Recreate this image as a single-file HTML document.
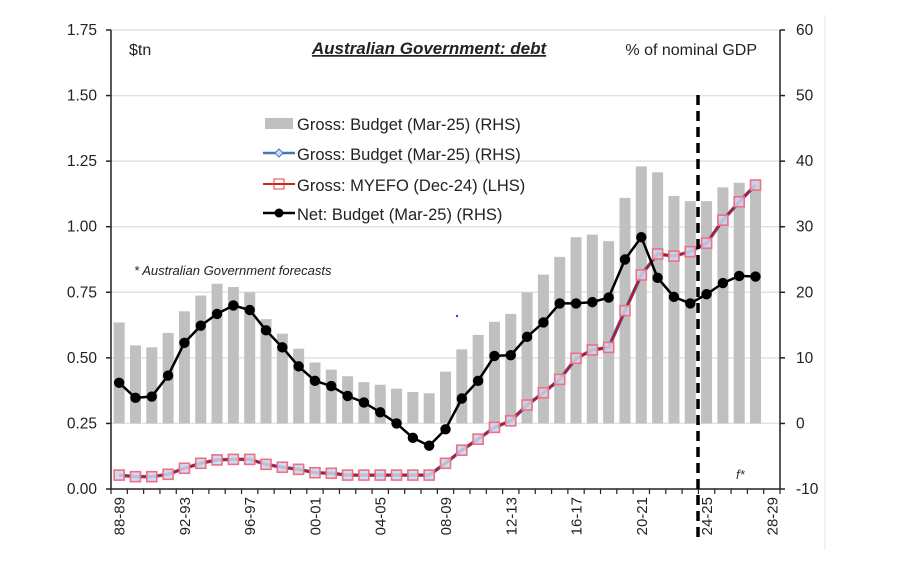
<!DOCTYPE html>
<html><head><meta charset="utf-8"><style>
html,body{margin:0;padding:0;background:#fff;}
svg{display:block;font-family:"Liberation Sans",sans-serif;}
</style></head><body>
<svg id="chart" width="913" height="572" viewBox="0 0 913 572">
<line x1="825" y1="15" x2="825" y2="550" stroke="#e6e6e6"/>
<g id="grid"></g>
<g id="bars"></g>
<g id="axes"></g>
<g id="lines"></g>
<line x1="698" y1="95" x2="698" y2="540" stroke="#000" stroke-width="3.5" stroke-dasharray="10,6"/>
<text x="736" y="479" font-size="13" font-style="italic" fill="#333">f*</text>
<circle cx="457" cy="316" r="1.2" fill="#3344cc"/>
<text x="429" y="54" font-size="17" font-weight="bold" font-style="italic" text-anchor="middle" text-decoration="underline" fill="#222">Australian Government: debt</text>
<text x="129" y="55" font-size="16" fill="#222">$tn</text>
<text x="757" y="55" font-size="16" fill="#222" text-anchor="end">% of nominal GDP</text>
<text x="134" y="275" font-size="13" font-style="italic" fill="#222">* Australian Government forecasts</text>
<g>
 <g><rect x="265" y="118" width="28" height="11" fill="#c0c0c0"/><text x="297" y="130" font-size="16.5" fill="#222">Gross: Budget (Mar-25) (RHS)</text></g>
 <g><line x1="263" y1="153" x2="295" y2="153" stroke="#4a74b8" stroke-width="2.5"/><path d="M279 149 L283 153 L279 157 L275 153Z" fill="#cfe0f5" stroke="#4a74b8"/><text x="297" y="160" font-size="16.5" fill="#222">Gross: Budget (Mar-25) (RHS)</text></g>
 <g><line x1="263" y1="184" x2="295" y2="184" stroke="#cc2222" stroke-width="2"/><rect x="274" y="179" width="10" height="10" fill="none" stroke="#e04040"/><text x="297" y="191" font-size="16.5" fill="#222">Gross: MYEFO (Dec-24) (LHS)</text></g>
 <g><line x1="263" y1="213" x2="295" y2="213" stroke="#000" stroke-width="2.5"/><circle cx="279" cy="213" r="4.5" fill="#000"/><text x="297" y="220" font-size="16.5" fill="#222">Net: Budget (Mar-25) (RHS)</text></g>
</g>
</svg>
<script>
const categories = ["88-89","89-90","90-91","91-92","92-93","93-94","94-95","95-96","96-97","97-98","98-99","99-00","00-01","01-02","02-03","03-04","04-05","05-06","06-07","07-08","08-09","09-10","10-11","11-12","12-13","13-14","14-15","15-16","16-17","17-18","18-19","19-20","20-21","21-22","22-23","23-24","24-25","25-26","26-27","27-28","28-29"];
const grossBudgetPct = [15.4,11.9,11.6,13.8,17.1,19.5,21.3,20.8,20.0,15.9,13.7,11.4,9.3,8.2,7.2,6.3,5.9,5.3,4.8,4.6,7.9,11.3,13.5,15.5,16.7,20.0,22.7,25.4,28.4,28.8,27.8,34.4,39.2,38.3,34.7,33.9,33.9,36.0,36.7,37.1];
const netBudgetPct = [6.2,3.9,4.1,7.3,12.3,14.9,16.7,18.0,17.3,14.2,11.6,8.7,6.5,5.7,4.2,3.2,1.7,0.0,-2.2,-3.4,-0.9,3.8,6.5,10.3,10.4,13.2,15.4,18.3,18.3,18.5,19.2,25.0,28.4,22.2,19.3,18.3,19.7,21.4,22.5,22.4];
const grossMyefoTn = [0.053,0.047,0.047,0.056,0.079,0.098,0.111,0.113,0.113,0.094,0.083,0.075,0.062,0.060,0.053,0.053,0.053,0.053,0.053,0.053,0.098,0.148,0.19,0.235,0.26,0.32,0.367,0.418,0.498,0.53,0.54,0.68,0.816,0.896,0.888,0.905,0.937,1.025,1.095,1.159];
const leftTicks = ["0.00","0.25","0.50","0.75","1.00","1.25","1.50","1.75"];
const rightTicks = ["-10","0","10","20","30","40","50","60"];

const NS="http://www.w3.org/2000/svg";
const X0=111, X1=780, YT=30, YB=489;
const step=(X1-X0)/categories.length;
const xC=i=>X0+step*(i+0.5);
const yL=v=>YB-(v-0)/1.75*(YB-YT);
const yR=v=>YB-(v+10)/70*(YB-YT);
function mk(tag,attrs,parent){const e=document.createElementNS(NS,tag);for(const k in attrs)e.setAttribute(k,attrs[k]);parent.appendChild(e);return e;}
const grid=document.getElementById('grid'),bars=document.getElementById('bars'),axes=document.getElementById('axes'),lines=document.getElementById('lines');

leftTicks.forEach((t)=>{const v=parseFloat(t),y=yL(v);
 if(v>0){const g=mk('line',{x1:X0,x2:X1,y1:y,y2:y,stroke:'#e2e2e2','stroke-width':1.5},grid);
 
 }
 const tk=mk('line',{x1:X0-5,x2:X0,y1:y,y2:y,stroke:'#222','stroke-width':1.5},axes);
 
 
 const tx=mk('text',{x:X0-14,y:y+5,'font-size':15.5,'text-anchor':'end',fill:'#222'},axes);tx.textContent=t;
 
 });
rightTicks.forEach((t)=>{const v=parseFloat(t),y=yR(v);
 const tk=mk('line',{x1:X1,x2:X1+5,y1:y,y2:y,stroke:'#222','stroke-width':1.5},axes);
 
 
 const tx=mk('text',{x:X1+16,y:y+5,'font-size':15.5,fill:'#222'},axes);tx.textContent=t;
 
 });
let a=mk('line',{x1:X0,x2:X0,y1:YT,y2:YB,stroke:'#222','stroke-width':1.5},axes);


a=mk('line',{x1:X1,x2:X1,y1:YT,y2:YB,stroke:'#222','stroke-width':1.5},axes);


a=mk('line',{x1:X0,x2:X1,y1:YB,y2:YB,stroke:'#222','stroke-width':1.5},axes);


for(let i=0;i<=categories.length;i++){const x=X0+step*i;
 const tk=mk('line',{x1:x,x2:x,y1:YB,y2:YB+5,stroke:'#222','stroke-width':1.2},axes);
 
 }
categories.forEach((c,i)=>{if(i%4!==0)return;const x=xC(i);
 const tx=mk('text',{x:0,y:0,'font-size':15,'text-anchor':'end',fill:'#222',transform:`translate(${x+5.5},${YB+8}) rotate(-90)`},axes);tx.textContent=c;
 
 });

grossBudgetPct.forEach((v,i)=>{const y0=yR(0),y=yR(v);
 const r=mk('rect',{x:xC(i)-5.5,y:Math.min(y,y0),width:11,height:Math.abs(y0-y),fill:'#c0c0c0'},bars);
 
 });

function poly(vals,f,color,w,name){const p=mk('polyline',{points:vals.map((v,i)=>xC(i)+','+f(v)).join(' '),fill:'none',stroke:color,'stroke-width':w,'stroke-linejoin':'round'},lines);
 
 }
poly(grossMyefoTn,yL,'#4a74b8',3.5,'gross-budget-line');
poly(grossMyefoTn,yL,'#c0142a',2.2,'myefo-line');
grossMyefoTn.forEach((v,i)=>{const m=mk('rect',{x:xC(i)-5,y:yL(v)-5,width:10,height:10,fill:'#c9d6ee','fill-opacity':0.85,stroke:'#f07080','stroke-width':1.6},lines);
 
 });
poly(netBudgetPct,yR,'#000',2.5,'net-budget-line');
netBudgetPct.forEach((v,i)=>{const m=mk('circle',{cx:xC(i),cy:yR(v),r:5.2,fill:'#000'},lines);
 
 });
</script>
</body></html>
